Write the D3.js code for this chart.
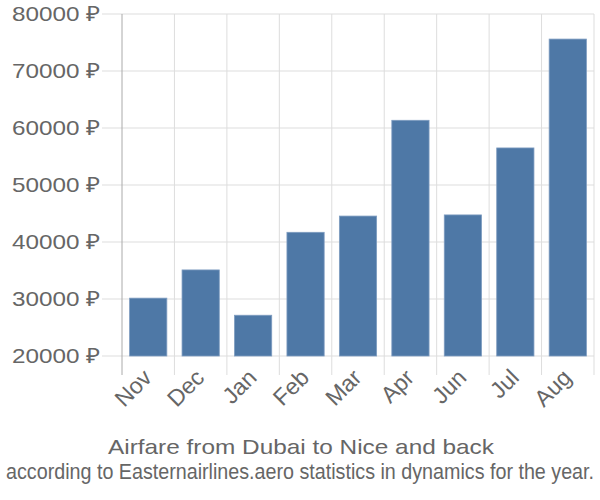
<!DOCTYPE html>
<html><head><meta charset="utf-8">
<script src="https://cdn.jsdelivr.net/npm/d3@7"></script>
<style>body{margin:0;background:#fff}</style>
</head><body>
<svg id="c" width="600" height="500"></svg>
<script>
const months = ["Nov","Dec","Jan","Feb","Mar","Apr","Jun","Jul","Aug"];
const prices = [30150, 35100, 27150, 41700, 44550, 61350, 44750, 56500, 75600];
const yTicks = [20000,30000,40000,50000,60000,70000,80000];
const title = "Airfare from Dubai to Nice and back";
const subtitle = "according to Easternairlines.aero statistics in dynamics for the year.";

(function(){
const svg = d3.select("#c");
const L = 122, R = 594, T = 14, B = 356;
const x = d3.scaleBand().domain(months).range([L, R]).paddingInner(0.29).paddingOuter(0.145);
const y = d3.scaleLinear().domain([20000, 80000]).range([B, T]);
const font = "'Liberation Sans', Arial, sans-serif";
const grid = "#dddddd";
const txt = "#666666";

svg.append("g").selectAll("line").data(yTicks).join("line")
  .attr("x1", 102).attr("x2", R).attr("y1", d=>y(d)).attr("y2", d=>y(d))
  .attr("stroke", grid).attr("stroke-width", 1);
const edges = d3.range(1, months.length+1).map(i => L + i*(R-L)/months.length);
svg.append("g").selectAll("line").data(edges).join("line")
  .attr("x1", d=>d).attr("x2", d=>d).attr("y1", T).attr("y2", 375)
  .attr("stroke", grid).attr("stroke-width", 1);
svg.append("line").attr("x1", L).attr("x2", L).attr("y1", T).attr("y2", 375)
  .attr("stroke", "#aaaaaa").attr("stroke-width", 1);

svg.append("g").selectAll("rect").data(months).join("rect")
  .attr("x", d=>x(d)).attr("width", x.bandwidth())
  .attr("y", (d,i)=>y(prices[i])).attr("height", (d,i)=>B - y(prices[i]))
  .attr("fill", "#4e78a6").attr("stroke", "#7e9cc0").attr("stroke-width", 0.8);

svg.append("g").selectAll("text").data(yTicks).join("text")
  .attr("x", 100).attr("y", d=>y(d)).attr("dy", "0.35em")
  .attr("text-anchor", "end").attr("font-family", font).attr("font-size", 21)
  .attr("textLength", 88).attr("lengthAdjust", "spacingAndGlyphs")
  .attr("fill", txt).text(d => d + " ₽");

svg.append("g").selectAll("text").data(months).join("text")
  .attr("transform", d => `translate(${x(d)+x.bandwidth()/2+5},${379}) rotate(-45)`)
  .attr("text-anchor", "end").attr("font-family", font).attr("font-size", 23)
  .attr("fill", txt).text(d=>d);

svg.append("text").attr("x", 301).attr("y", 454).attr("text-anchor", "middle")
  .attr("font-family", font).attr("font-size", 21).attr("fill", txt)
  .attr("textLength", 386).attr("lengthAdjust", "spacingAndGlyphs").text(title);
svg.append("text").attr("transform", "translate(300,479) scale(1,1.12)").attr("text-anchor", "middle")
  .attr("font-family", font).attr("font-size", 19).attr("fill", txt)
  .attr("textLength", 588).attr("lengthAdjust", "spacingAndGlyphs").text(subtitle);
})();
</script>
</body></html>
